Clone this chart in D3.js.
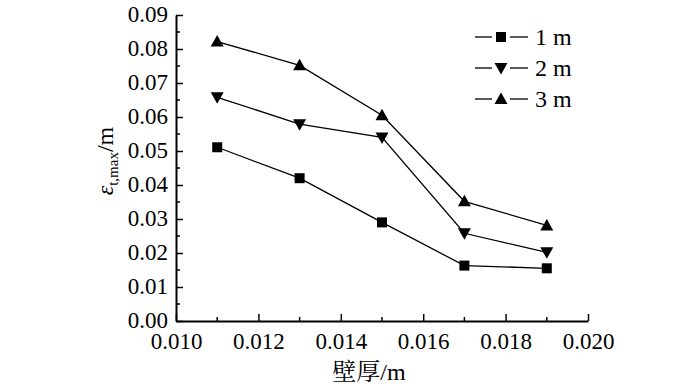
<!DOCTYPE html>
<html>
<head>
<meta charset="utf-8">
<script src="https://cdn.jsdelivr.net/npm/d3@7"></script>
<style>
  body { margin: 0; background: #fff; }
</style>
</head>
<body>
<div id="chart"></div>
<script>
var thickness = [0.011, 0.013, 0.015, 0.017, 0.019];
var depth1m = [0.0511, 0.0420, 0.0290, 0.0163, 0.0155];
var depth2m = [0.0658, 0.0579, 0.0540, 0.0258, 0.0202];
var depth3m = [0.0822, 0.0752, 0.0605, 0.0352, 0.0281];
var seriesNames = ["1 m", "2 m", "3 m"];
var xTicks = [0.010, 0.012, 0.014, 0.016, 0.018, 0.020];
var yTicks = [0, 0.01, 0.02, 0.03, 0.04, 0.05, 0.06, 0.07, 0.08, 0.09];

var serif = "'Liberation Serif'";
var cjk = "'Noto Serif CJK SC'";

var width = 700, height = 391;
var margin = { top: 15, right: 112, bottom: 70, left: 176 };
var innerW = width - margin.left - margin.right;
var innerH = height - margin.top - margin.bottom;

var svg = d3.select("#chart").append("svg")
    .attr("width", width)
    .attr("height", height);
var g = svg.append("g")
    .attr("transform", "translate(" + margin.left + "," + margin.top + ")");

var x = d3.scaleLinear().domain([0.010, 0.020]).range([0, innerW]);
var y = d3.scaleLinear().domain([0, 0.09]).range([innerH, 0]);

// minor ticks
var xMinor = d3.range(0.011, 0.020, 0.002);
var yMinor = d3.range(0.005, 0.09, 0.01);
g.selectAll(".xminor").data(xMinor).enter().append("line")
    .attr("x1", function (d) { return x(d); }).attr("x2", function (d) { return x(d); })
    .attr("y1", innerH).attr("y2", innerH - 4)
    .attr("stroke", "#000").attr("stroke-width", 1.5);
g.selectAll(".yminor").data(yMinor).enter().append("line")
    .attr("y1", function (d) { return y(d); }).attr("y2", function (d) { return y(d); })
    .attr("x1", 0).attr("x2", 4)
    .attr("stroke", "#000").attr("stroke-width", 1.5);

var xAxis = g.append("g")
    .attr("transform", "translate(0," + innerH + ")")
    .call(d3.axisBottom(x).tickValues(xTicks).tickFormat(d3.format(".3f")).tickSizeInner(-7).tickSizeOuter(0).tickPadding(12));
var yAxis = g.append("g")
    .call(d3.axisLeft(y).tickValues(yTicks).tickFormat(d3.format(".2f")).tickSizeInner(-7).tickSizeOuter(0).tickPadding(8));

[xAxis, yAxis].forEach(function (ax) {
  ax.select(".domain").attr("stroke-width", 2);
  ax.selectAll(".tick line").attr("stroke-width", 1.5);
  ax.selectAll(".tick text")
      .style("font-family", serif)
      .style("font-size", "23px")
      .style("fill", "#000");
});
yAxis.selectAll(".tick text").attr("dy", "0.3em");

var series = [depth1m, depth2m, depth3m];
var shapes = ["square", "down", "up"];

function marker(sel, shape) {
  if (shape === "square") {
    sel.append("rect").attr("x", -5).attr("y", -5).attr("width", 10).attr("height", 10).attr("fill", "#000");
  } else if (shape === "up") {
    sel.append("path").attr("d", "M0,-6.5L6.5,5L-6.5,5Z").attr("fill", "#000");
  } else {
    sel.append("path").attr("d", "M0,6.5L6.5,-5L-6.5,-5Z").attr("fill", "#000");
  }
}

var line = d3.line()
    .x(function (d, i) { return x(thickness[i]); })
    .y(function (d) { return y(d); });

series.forEach(function (vals, k) {
  g.append("path").datum(vals)
      .attr("d", line)
      .attr("fill", "none")
      .attr("stroke", "#000")
      .attr("stroke-width", 1.3);
  vals.forEach(function (v, i) {
    var m = g.append("g").attr("transform", "translate(" + x(thickness[i]) + "," + y(v) + ")");
    marker(m, shapes[k]);
  });
});

// legend
var legend = svg.append("g").attr("transform", "translate(475,37)");
seriesNames.forEach(function (name, k) {
  var row = legend.append("g").attr("transform", "translate(0," + (k * 31) + ")");
  row.append("line").attr("x1", 0).attr("x2", 17).attr("y1", 0).attr("y2", 0)
      .attr("stroke", "#000").attr("stroke-width", 1.3);
  row.append("line").attr("x1", 35).attr("x2", 53).attr("y1", 0).attr("y2", 0)
      .attr("stroke", "#000").attr("stroke-width", 1.3);
  var m = row.append("g").attr("transform", "translate(26,0)");
  marker(m, shapes[k]);
  row.append("text").attr("x", 60).attr("y", 0).attr("dy", "0.33em")
      .style("font-family", serif).style("font-size", "24px").style("fill", "#000").text(name);
});

// axis titles
var xl = svg.append("text")
    .attr("x", 369)
    .attr("y", 380)
    .attr("text-anchor", "middle")
    .style("font-size", "24px")
    .style("fill", "#000");
xl.append("tspan").style("font-family", cjk).text("壁厚");
xl.append("tspan").style("font-family", serif).text("/m");

var yl = svg.append("text")
    .attr("transform", "translate(113,161) rotate(-90)")
    .attr("text-anchor", "middle")
    .style("font-family", serif)
    .style("font-size", "24px")
    .style("fill", "#000");
yl.append("tspan").style("font-style", "italic").text("ε");
yl.append("tspan").attr("dy", 5).style("font-size", "15px").text("t,max");
yl.append("tspan").attr("dy", -5).text("/m");
</script>
</body>
</html>
